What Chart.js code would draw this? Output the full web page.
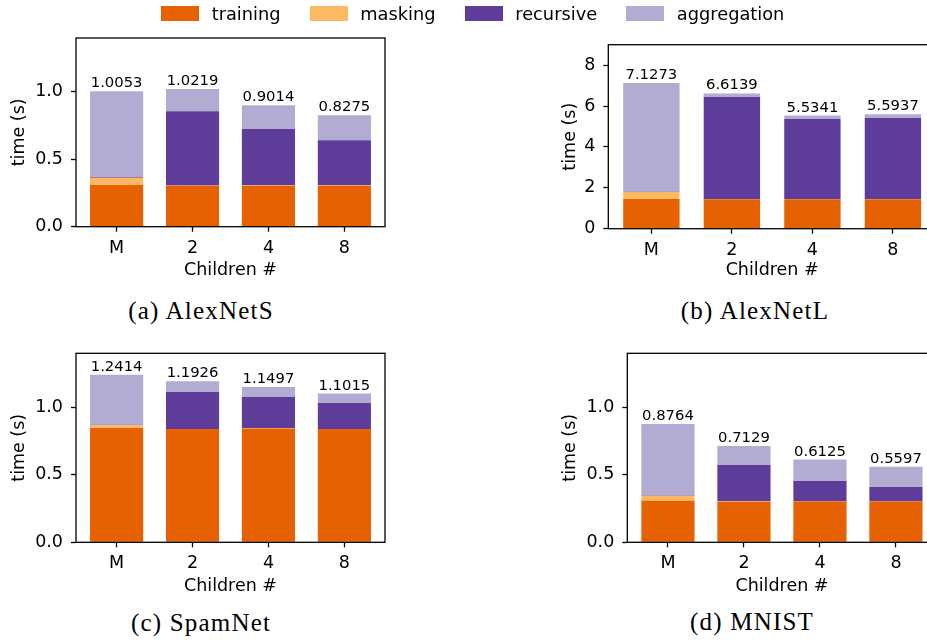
<!DOCTYPE html>
<html>
<head>
<meta charset="utf-8">
<script src="https://cdn.jsdelivr.net/npm/chart.js@4.4.1/dist/chart.umd.min.js"></script>
<style>
  html, body { margin: 0; padding: 0; overflow: hidden; background: #fff; }
  body { position: relative; width: 927px; height: 641px; font-family: "DejaVu Sans", sans-serif; }
  canvas { position: absolute; }
  .cap { position: absolute; font-family: "Liberation Serif", serif; font-size: 25px; letter-spacing: 1.2px;
         transform: translate(-50%, -50%); white-space: nowrap; color: #000; }
  #legend { position: absolute; top: 0; left: 161px; height: 27px; display: flex; align-items: center;
            font-size: 17.8px; color: #000; z-index: 2; }
  .item { display: flex; align-items: center; margin-right: 29px; }
  .box { width: 38px; height: 14.5px; margin-right: 12.7px; }
</style>
</head>
<body>
<div id="legend"></div>

<script>
const categories = ["M", "2", "4", "8"];
const seriesNames = ["training", "masking", "recursive", "aggregation"];
const colors = ["#e66101", "#fdb863", "#5e3c99", "#b2abd2"];

// (a) AlexNetS
const alexSTraining    = [0.310, 0.303, 0.304, 0.304];
const alexSMasking     = [0.053, 0.002, 0.003, 0.003];
const alexSRecursive   = [0.005, 0.552, 0.417, 0.335];
const alexSAggregation = [0.6373, 0.1649, 0.1774, 0.1855];
const alexSTotals      = [1.0053, 1.0219, 0.9014, 0.8275];

// (b) AlexNetL
const alexLTraining    = [1.45, 1.44, 1.44, 1.44];
const alexLMasking     = [0.34, 0.01, 0.01, 0.01];
const alexLRecursive   = [0.02, 4.99, 3.91, 3.96];
const alexLAggregation = [5.3173, 0.1739, 0.1741, 0.1837];
const alexLTotals      = [7.1273, 6.6139, 5.5341, 5.5937];

// (c) SpamNet
const spamTraining    = [0.847, 0.839, 0.843, 0.839];
const spamMasking     = [0.020, 0.001, 0.004, 0.001];
const spamRecursive   = [0.003, 0.273, 0.229, 0.192];
const spamAggregation = [0.3714, 0.0796, 0.0737, 0.0695];
const spamTotals      = [1.2414, 1.1926, 1.1497, 1.1015];

// (d) MNIST
const mnistTraining    = [0.308, 0.301, 0.305, 0.305];
const mnistMasking     = [0.037, 0.004, 0.001, 0.001];
const mnistRecursive   = [0.003, 0.268, 0.148, 0.104];
const mnistAggregation = [0.5284, 0.1399, 0.1585, 0.1497];
const mnistTotals      = [0.8764, 0.7129, 0.6125, 0.5597];

const yTicksSmall = [0, 0.5, 1.0];
const yTicksLarge = [0, 2, 4, 6, 8];

const xPos = categories.map((c, i) => i);

// layout of each subplot: plot area box, title centres
const panels = [
  {caption: "(a) AlexNetS", series: [alexSTraining, alexSMasking, alexSRecursive, alexSAggregation], totals: alexSTotals,
   ticks: yTicksSmall, dec: 1, ymax: 1.4, area: [76, 38, 385, 226.7], yTitleX: 19.5, xTitleY: 270.5, capX: 201, capY: 311},
  {caption: "(b) AlexNetL", series: [alexLTraining, alexLMasking, alexLRecursive, alexLAggregation], totals: alexLTotals,
   ticks: yTicksLarge, dec: 0, ymax: 9, area: [608.3, 44.7, 936, 228.7], yTitleX: 570.5, xTitleY: 270.7, capX: 755, capY: 311},
  {caption: "(c) SpamNet", series: [spamTraining, spamMasking, spamRecursive, spamAggregation], totals: spamTotals,
   ticks: yTicksSmall, dec: 1, ymax: 1.4, area: [76, 353.3, 385, 542.3], yTitleX: 19.5, xTitleY: 586.5, capX: 201, capY: 623},
  {caption: "(d) MNIST", series: [mnistTraining, mnistMasking, mnistRecursive, mnistAggregation], totals: mnistTotals,
   ticks: yTicksSmall, dec: 1, ymax: 1.4, area: [627.3, 353.3, 936.6, 542.3], yTitleX: 570.5, xTitleY: 586.5, capX: 752, capY: 622}
];

const legend = document.getElementById("legend");
seriesNames.forEach((name, i) => {
  let it = document.createElement("div");
  it.className = "item";
  it.innerHTML = '<div class="box" style="background:' + colors[i] + '"></div><span>' + name + '</span>';
  legend.appendChild(it);
});

const FONT = "DejaVu Sans";
const half = 17.5 * 1.2 / 2;

const framePlugin = {
  id: "frame",
  afterDatasetsDraw(chart) {
    const ctx = chart.ctx;
    const a = chart.chartArea;
    const p = chart.options.plugins.frame;
    ctx.save();
    ctx.fillStyle = "#000";
    ctx.font = "14.8px '" + FONT + "'";
    ctx.textAlign = "center";
    ctx.textBaseline = "alphabetic";
    p.totals.forEach((t, i) => {
      let x = chart.scales.x.getPixelForValue(xPos[i]);
      let y = chart.scales.y.getPixelForValue(t) - 4;
      ctx.fillText(t.toFixed(4), x, y);
    });
    ctx.strokeStyle = "#000";
    ctx.lineWidth = 1.3;
    ctx.strokeRect(a.left, a.top, a.right - a.left, a.bottom - a.top);
    ctx.restore();
  }
};

function makeChart(p) {
  const [L, T, R, B] = p.area;
  const cLeft = Math.round(p.yTitleX - half);
  // keep the top padding larger than the y tick label padding chart.js reserves
  const cTop = Math.floor(T) - 24;
  const padTop = T - cTop;
  const yw = L - cLeft;
  const xh = p.xTitleY + half - B;
  const w = Math.ceil(R - cLeft + 8);
  const h = Math.ceil(p.xTitleY + half - cTop);

  let canvas = document.createElement("canvas");
  canvas.width = w;
  canvas.height = h;
  canvas.style.left = cLeft + "px";
  canvas.style.top = cTop + "px";
  document.body.appendChild(canvas);

  let cap = document.createElement("div");
  cap.className = "cap";
  cap.textContent = p.caption;
  cap.style.left = p.capX + "px";
  cap.style.top = p.capY + "px";
  document.body.appendChild(cap);

  new Chart(canvas.getContext("2d"), {
    type: "bar",
    data: {
      labels: xPos,
      datasets: seriesNames.map((name, i) => ({
        label: name,
        data: p.series[i],
        backgroundColor: colors[i],
        borderWidth: 0,
        stack: "all",
        barPercentage: 0.7,
        categoryPercentage: 1.0
      }))
    },
    options: {
      responsive: false,
      animation: false,
      devicePixelRatio: 1,
      layout: {padding: {left: 0, top: padTop, right: w - (R - cLeft), bottom: h - (padTop + (B - T) + xh)}},
      plugins: {legend: {display: false}, tooltip: {enabled: false}, frame: {totals: p.totals}},
      scales: {
        x: {
          type: "linear", min: -0.535, max: 3.535, offset: false,
          afterBuildTicks: s => { s.ticks = xPos.map(v => ({value: v})); },
          afterFit: s => { s.height = xh; },
          grid: {display: true, offset: false, drawOnChartArea: false, drawTicks: true, tickLength: 5, tickWidth: 1.3, tickColor: "#000"},
          border: {display: false},
          ticks: {font: {family: FONT, size: 17.5}, color: "#000", padding: 6, maxRotation: 0,
                  callback: v => categories[Math.round(v)]},
          title: {display: true, text: "Children #", font: {family: FONT, size: 17.5}, color: "#000", padding: 0}
        },
        y: {
          type: "linear", min: 0, max: p.ymax,
          afterBuildTicks: s => { s.ticks = p.ticks.map(v => ({value: v})); },
          afterFit: s => { s.width = yw; },
          grid: {display: true, drawOnChartArea: false, drawTicks: true, tickLength: 5, tickWidth: 1.3, tickColor: "#000"},
          border: {display: false},
          ticks: {font: {family: FONT, size: 17.5}, color: "#000", padding: 8,
                  callback: v => v.toFixed(p.dec)},
          title: {display: true, text: "time (s)", font: {family: FONT, size: 17.5}, color: "#000", padding: 0}
        }
      }
    },
    plugins: [framePlugin]
  });
}

panels.forEach(makeChart);
</script>
</body>
</html>
